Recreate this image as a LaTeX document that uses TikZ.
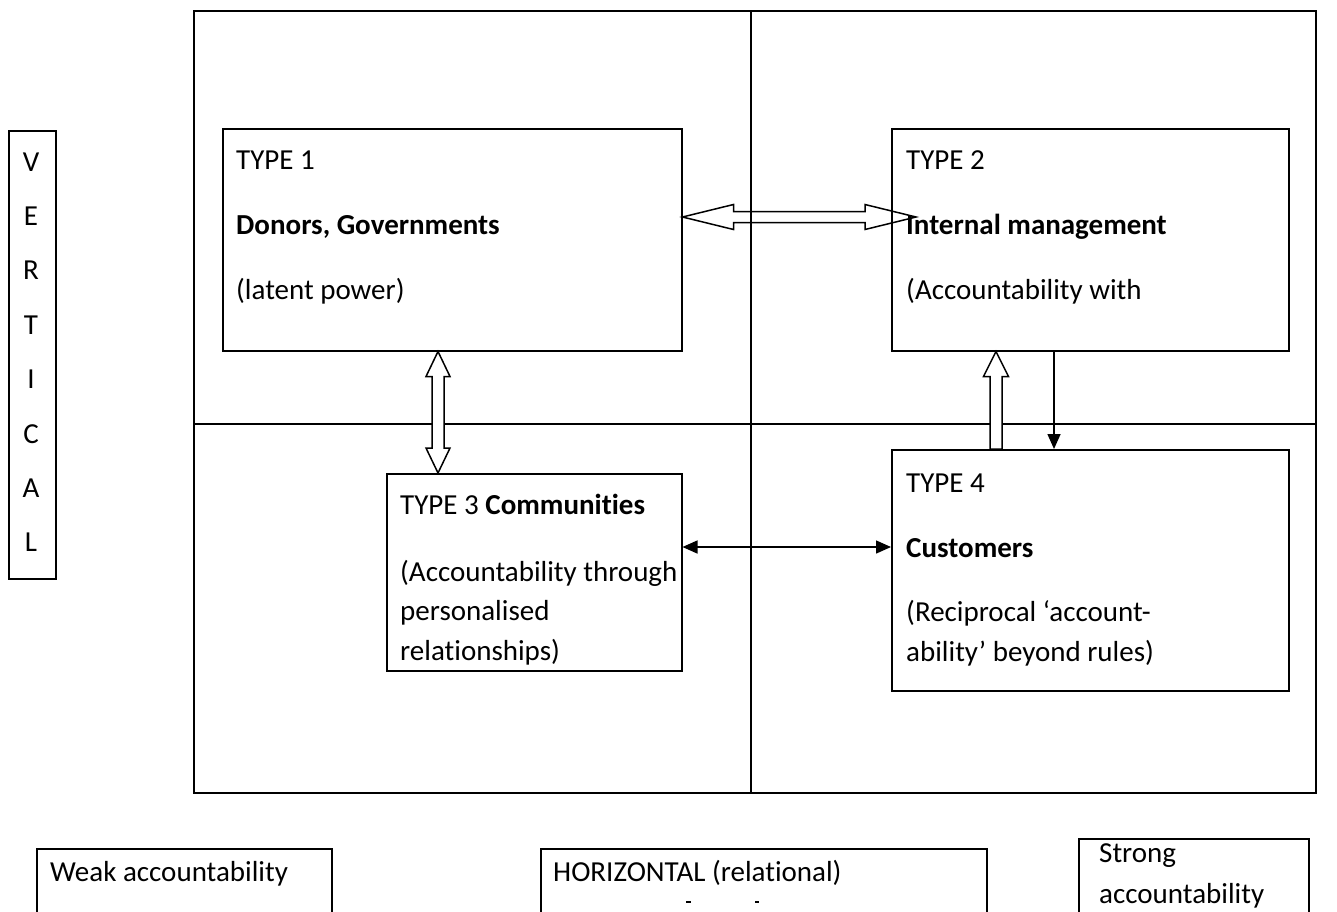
\documentclass[tikz,border=0pt]{standalone}
\usepackage{fontspec}
\setmainfont{Carlito}[Ligatures={NoCommon,NoRequired,NoContextual},Contextuals=NoAlternate,RawFeature={-liga;-clig;-calt;-dlig}]
\usetikzlibrary{arrows.meta,calc}
\begin{document}
\begin{tikzpicture}[x=1pt,y=-1pt,
  box/.style={draw,line width=1.5pt,rectangle,inner sep=0pt,anchor=north west},
  txt/.style={anchor=base west,inner sep=0pt,font=\fontsize{29}{35}\selectfont},
  letter/.style={anchor=base,inner sep=0pt,font=\fontsize{29}{35}\selectfont},
  rule/.style={line width=1.5pt},
  blockarrow/.style={draw,line width=1.5pt,line join=miter},
  thinarrow/.style={line width=1.5pt,-{Triangle[length=15pt,width=13pt]}},
  thindouble/.style={line width=1.5pt,{Triangle[length=15pt,width=13pt]}-{Triangle[length=15pt,width=13pt]}},
]
\useasboundingbox (0,0) rectangle (1337,911);
\clip (0,0) rectangle (1337,911);

% outer frame split into four quadrants
\node[box,minimum width=1122pt,minimum height=782pt] (frame) at (193,10) {};
\draw[rule] (frame.north -| 751,0) -- (frame.south -| 751,0);
\draw[rule] (frame.west |- 0,424) -- (frame.east |- 0,424);

% side label
\node[box,minimum width=47pt,minimum height=448pt] (vert) at (8,130) {};
\foreach \ch [count=\i from 0] in {V,E,R,T,I,C,A,L}
  \node[letter] (v\i) at (31,{171+54.4*\i}) {\ch};

% the four types
\node[box,fill=white,minimum width=459pt,minimum height=222pt] (b1) at (222,128) {};
\node[box,fill=white,minimum width=397pt,minimum height=222pt] (b2) at (891,128) {};
\node[box,fill=white,minimum width=295pt,minimum height=197pt] (b3) at (386,473) {};
\node[box,fill=white,minimum width=397pt,minimum height=241pt] (b4) at (891,449) {};

\node[txt] (t1a) at (236,169) {TYPE 1};
\node[txt] (t1b) at (236,234) {\textbf{Donors, Governments}};
\node[txt] (t1c) at (236,299) {(latent power)};

\node[txt] (t2a) at (906,169) {TYPE 2};
\node[txt] (t2b) at (906,234) {\textbf{Internal management}};
\node[txt] (t2c) at (906,299) {(Accountability with};

\node[txt] (t3a) at (400,514) {TYPE 3 \textbf{Communities}};
\node[txt] (t3b) at (400,581) {(Accountability through};
\node[txt] (t3c) at (400,620) {personalised};
\node[txt] (t3d) at (400,660) {relationships)};

\node[txt] (t4a) at (906,492) {TYPE 4};
\node[txt] (t4b) at (906,557) {\textbf{Customers}};
\node[txt] (t4c) at (906,621) {(Reciprocal ‘account-};
\node[txt] (t4d) at (906,661) {ability’ beyond rules)};

% open double arrow between types 1 and 2
\coordinate (hl) at (b1.east |- 0,217);
\coordinate (hr) at ($(b2.west |- 0,217)+(25,0)$);
\draw[blockarrow] (hl) -- ++(51,-12.5) -- ++(0,7) -- ($(hr)+(-51,-5.5)$) -- ++(0,-7)
  -- (hr) -- ++(-51,12.5) -- ++(0,-7) -- ($(hl)+(51,5.5)$) -- ++(0,7) -- cycle;

% open double arrow between types 1 and 3
\coordinate (vt) at (b1.south -| 438,0);
\coordinate (vb) at (b3.north -| 438,0);
\draw[blockarrow,fill=white] (vt) -- ++(12,25) -- ++(-6,0) -- ($(vb)+(6,-25)$) -- ++(6,0)
  -- (vb) -- ++(-12,-25) -- ++(6,0) -- ($(vt)+(-6,25)$) -- ++(-6,0) -- cycle;

% open arrow from type 4 up to type 2
\coordinate (ut) at (b2.south -| 996,0);
\coordinate (ub) at (b4.north -| 996,0);
\draw[blockarrow,fill=white] (ut) -- ++(12.5,25) -- ++(-6.5,0) -- ($(ub)+(6,0)$)
  -- ($(ub)+(-6,0)$) -- ($(ut)+(-6,25)$) -- ++(-6.5,0) -- cycle;

% thin arrows
\draw[thinarrow] (b2.south -| 1054,0) -- (b4.north -| 1054,0);
\draw[thindouble] (b3.east |- 0,547) -- (b4.west |- 0,547);

% bottom scale
\node[box,minimum width=295pt,minimum height=100pt] (weak) at (36,848) {};
\node[txt] (weakt) at (50,881) {Weak accountability};
\node[box,minimum width=446pt,minimum height=100pt] (horiz) at (540,848) {};
\node[txt] (horizt) at (553,881) {HORIZONTAL (relational)};
\draw[line width=1.5pt] (686,902) -- (691,902);
\draw[line width=1.5pt] (755,902) -- (759,902);
\node[box,minimum width=230pt,minimum height=110pt] (strong) at (1078,838) {};
\node[txt] (strongt) at (1099,862) {Strong};
\node[txt] (strongu) at (1099,903) {accountability};
\end{tikzpicture}
\end{document}
